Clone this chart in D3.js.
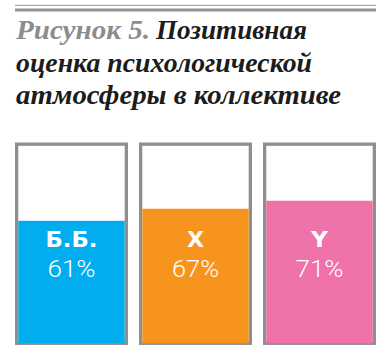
<!DOCTYPE html>
<html>
<head>
<meta charset="utf-8">
<script src="https://cdn.jsdelivr.net/npm/d3@7"></script>
<style>
  html, body { margin: 0; padding: 0; background: #ffffff; }
  svg { display: block; }
</style>
</head>
<body>
<svg id="chart" width="388" height="358"></svg>
<script>
// ---- data ----
const categories = ["Б.Б.", "X", "Y"];
const values = [61, 67, 71];
const valueLabels = ["61%", "67%", "71%"];
const colors = ["#00aeef", "#f7941d", "#ef72aa"];
const titlePrefix = "Рисунок 5.";
const titleLines = ["Позитивная", "оценка психологической", "атмосферы в коллективе"];

const svg = d3.select("#chart");

// top rules
svg.append("rect").attr("x", 15).attr("y", 4.8).attr("width", 361).attr("height", 1.2).attr("fill", "#a8a8a8");
svg.append("rect").attr("x", 15).attr("y", 8.5).attr("width", 361).attr("height", 3).attr("fill", "#929292");

// title
const tf = "'Liberation Serif', 'DejaVu Serif', serif";
function tt(txt, x, y, w, color) {
  svg.append("text").attr("x", x).attr("y", y)
    .attr("font-family", tf).attr("font-style", "italic").attr("font-weight", "bold")
    .attr("font-size", 28).attr("fill", color)
    .attr("textLength", w).attr("lengthAdjust", "spacingAndGlyphs")
    .text(txt);
}
tt(titlePrefix, 16, 38.5, 134, "#8d8d8d");
tt(titleLines[0], 156, 38.5, 151, "#1c1c1c");
tt(titleLines[1], 16, 71.5, 296, "#1c1c1c");
tt(titleLines[2], 16, 103.5, 325, "#1c1c1c");

// scales
const x = d3.scaleBand().domain(categories).range([15, 376]).paddingInner(0.0887).paddingOuter(0);
const y = d3.scaleLinear().domain([0, 100]).range([343.3, 142.5]);
const bw = 3.3;

const g = svg.append("g");
const cells = g.selectAll("g.cell").data(categories).join("g").attr("class", "cell");

// outline
cells.append("rect")
  .attr("x", d => x(d) + bw / 2)
  .attr("y", y(100) + bw / 2)
  .attr("width", x.bandwidth() - bw)
  .attr("height", y(0) - y(100) - bw / 2)
  .attr("fill", "#ffffff")
  .attr("stroke", "#8f8f8f")
  .attr("stroke-width", bw);

// fill
cells.append("rect")
  .attr("x", d => x(d) + bw)
  .attr("y", (d, i) => y(values[i]))
  .attr("width", x.bandwidth() - 2 * bw)
  .attr("height", (d, i) => y(0) - y(values[i]))
  .attr("fill", (d, i) => colors[i]);

const sf = "'DejaVu Sans', Roboto, sans-serif";
const catW = [52, 17, 17];
const valW = [48, 47, 48];
cells.append("text")
  .attr("x", d => x(d) + x.bandwidth() / 2)
  .attr("y", 247)
  .attr("text-anchor", "middle")
  .attr("font-family", sf).attr("font-weight", "bold").attr("font-size", 21)
  .attr("fill", "#ffffff")
  .attr("textLength", (d, i) => catW[i]).attr("lengthAdjust", "spacingAndGlyphs")
  .text(d => d);

cells.append("text")
  .attr("x", d => x(d) + x.bandwidth() / 2)
  .attr("y", 277)
  .attr("text-anchor", "middle")
  .attr("font-family", "Roboto, sans-serif").attr("font-weight", 300).attr("font-size", 23.5)
  .attr("fill", "#ffffff")
  .attr("textLength", (d, i) => valW[i]).attr("lengthAdjust", "spacingAndGlyphs")
  .text((d, i) => valueLabels[i]);
</script>
</body>
</html>
